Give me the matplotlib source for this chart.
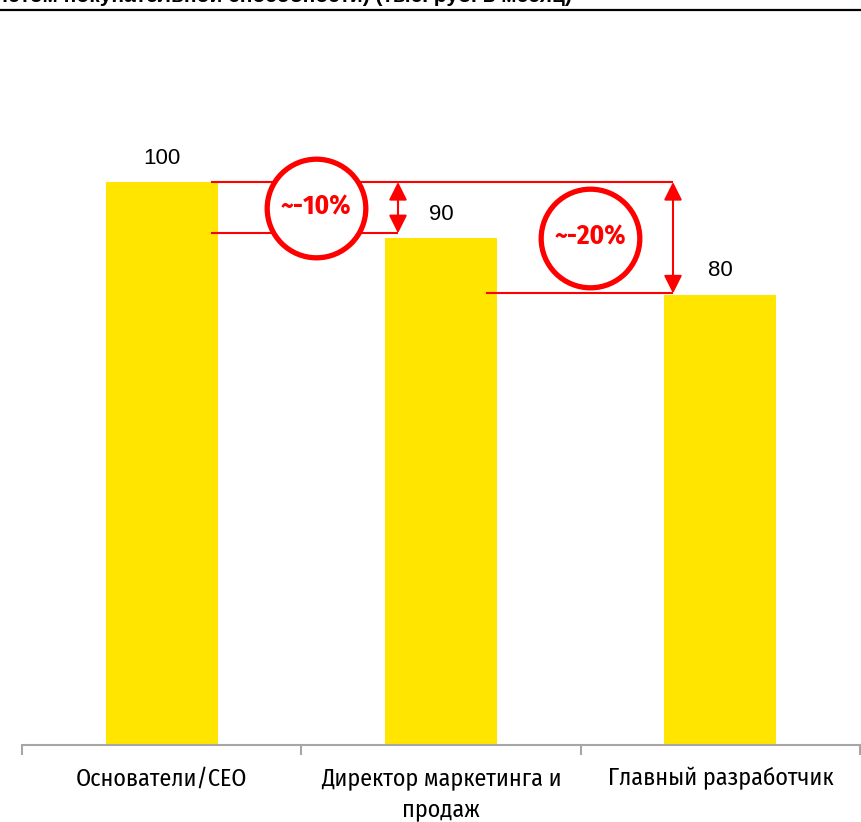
import matplotlib
matplotlib.use("Agg")
import matplotlib.pyplot as plt
from matplotlib import font_manager
from matplotlib.ft2font import FT2Font

# data
categories = ["Основатели/CEO", "Директор маркетинга и\nпродаж", "Главный разработчик"]
values = [100, 90, 80]
gap_labels = ["~-10%", "~-20%"]
title = "Зарплата ключевых сотрудников (с учётом покупательной способности) (тыс. руб. в месяц)"

W, H = 862, 822
YELLOW = "#FFE500"
RED = "#FF0000"
GRAY = "#A6A6A6"


def has_cyrillic(path):
    try:
        return 0x0414 in FT2Font(path).get_charmap()
    except Exception:
        return False


# narrow family with Cyrillic glyphs, bold weight preferred
entries = font_manager.fontManager.ttflist
narrow_fams = {}
for f in entries:
    if ("Narrow" in f.name or "Condensed" in f.name) and has_cyrillic(f.fname):
        narrow_fams.setdefault(f.name, set()).add(f.weight)
bold_ok = [n for n, w in narrow_fams.items() if any(x in (700, "bold") for x in w)]
names = {f.name for f in entries}
fallback = "Roboto" if "Roboto" in names else "DejaVu Sans"
narrow = (bold_ok or sorted(narrow_fams) or [fallback])[0]
narrow_list = [narrow, fallback, "DejaVu Sans"]
plain = ["Liberation Sans", "DejaVu Sans"]

fig = plt.figure(figsize=(W / 100, H / 100), dpi=100)

# axes box in pixels: x 22..860, baseline at y=745
ax = fig.add_axes([22 / W, (H - 745) / H, (860 - 22) / W, (745 - 20) / H])
ax.set_xlim(-0.5, 2.5)
ax.set_ylim(0, 725 / 5.63)

x = list(range(len(values)))
ax.bar(x, values, width=0.4, color=YELLOW, zorder=2)

for xi, v in zip(x, values):
    ax.annotate(str(v), (xi, v), xytext=(0, 9.5), textcoords="offset points",
                ha="center", va="bottom", fontsize=16, family=plain, color="black")

# axis styling
for s in ["top", "right", "left"]:
    ax.spines[s].set_visible(False)
ax.spines["bottom"].set_color(GRAY)
ax.spines["bottom"].set_linewidth(1.5)
ax.set_yticks([])
ax.set_xticks(x)
ax.set_xticklabels(categories, fontsize=17.3, family=narrow_list, linespacing=1.4)
ax.tick_params(axis="x", which="major", length=0, pad=16)
ax.set_xticks([-0.5, 0.5, 1.5, 2.5], minor=True)
ax.tick_params(axis="x", which="minor", length=7.5, width=1.5, color=GRAY, direction="out")


def px_to_x(px):
    return (px - 22) / ((860 - 22) / 3) - 0.5


# reference lines between bar levels
top = values[0]
ax.plot([px_to_x(212), px_to_x(672)], [top, top], color=RED, lw=1.5, zorder=3)
ax.plot([px_to_x(212), px_to_x(397)], [values[1] + 0.9, values[1] + 0.9], color=RED, lw=1.5, zorder=3)
ax.plot([px_to_x(487), px_to_x(672)], [values[2] + 0.2, values[2] + 0.2], color=RED, lw=1.5, zorder=3)

# double-headed arrows
arrow = dict(arrowstyle="<|-|>,head_length=0.5,head_width=0.25", color=RED, lw=1.5,
             mutation_scale=22, shrinkA=0, shrinkB=0)
ax.annotate("", xy=(px_to_x(398), top), xytext=(px_to_x(398), values[1] + 0.9), arrowprops=arrow, zorder=4)
ax.annotate("", xy=(px_to_x(673), top), xytext=(px_to_x(673), values[2] + 0.2), arrowprops=arrow, zorder=4)

# circled percentage labels
circles = [(px_to_x(316), (745 - 208) / 5.63), (px_to_x(590), (745 - 238) / 5.63)]
for (cx, cy), lab in zip(circles, gap_labels):
    ax.plot(cx, cy, marker="o", markersize=71, markerfacecolor="white",
            markeredgecolor=RED, markeredgewidth=3.8, zorder=5)
    ax.text(cx, cy + 0.3, lab, ha="center", va="center", fontsize=19.5, fontweight="bold",
            family=narrow_list, color=RED, zorder=6)

# cut-off header and rule at the top
fig.text(572 / W, 1 - 2 / H, title, ha="right", va="baseline", fontsize=15,
         fontweight="bold", family=plain, color="black")
fig.add_artist(plt.Line2D([0, 1], [1 - 10.5 / H, 1 - 10.5 / H], color="black", lw=1.6,
                          transform=fig.transFigure))

fig.savefig("out.png", dpi=100)
